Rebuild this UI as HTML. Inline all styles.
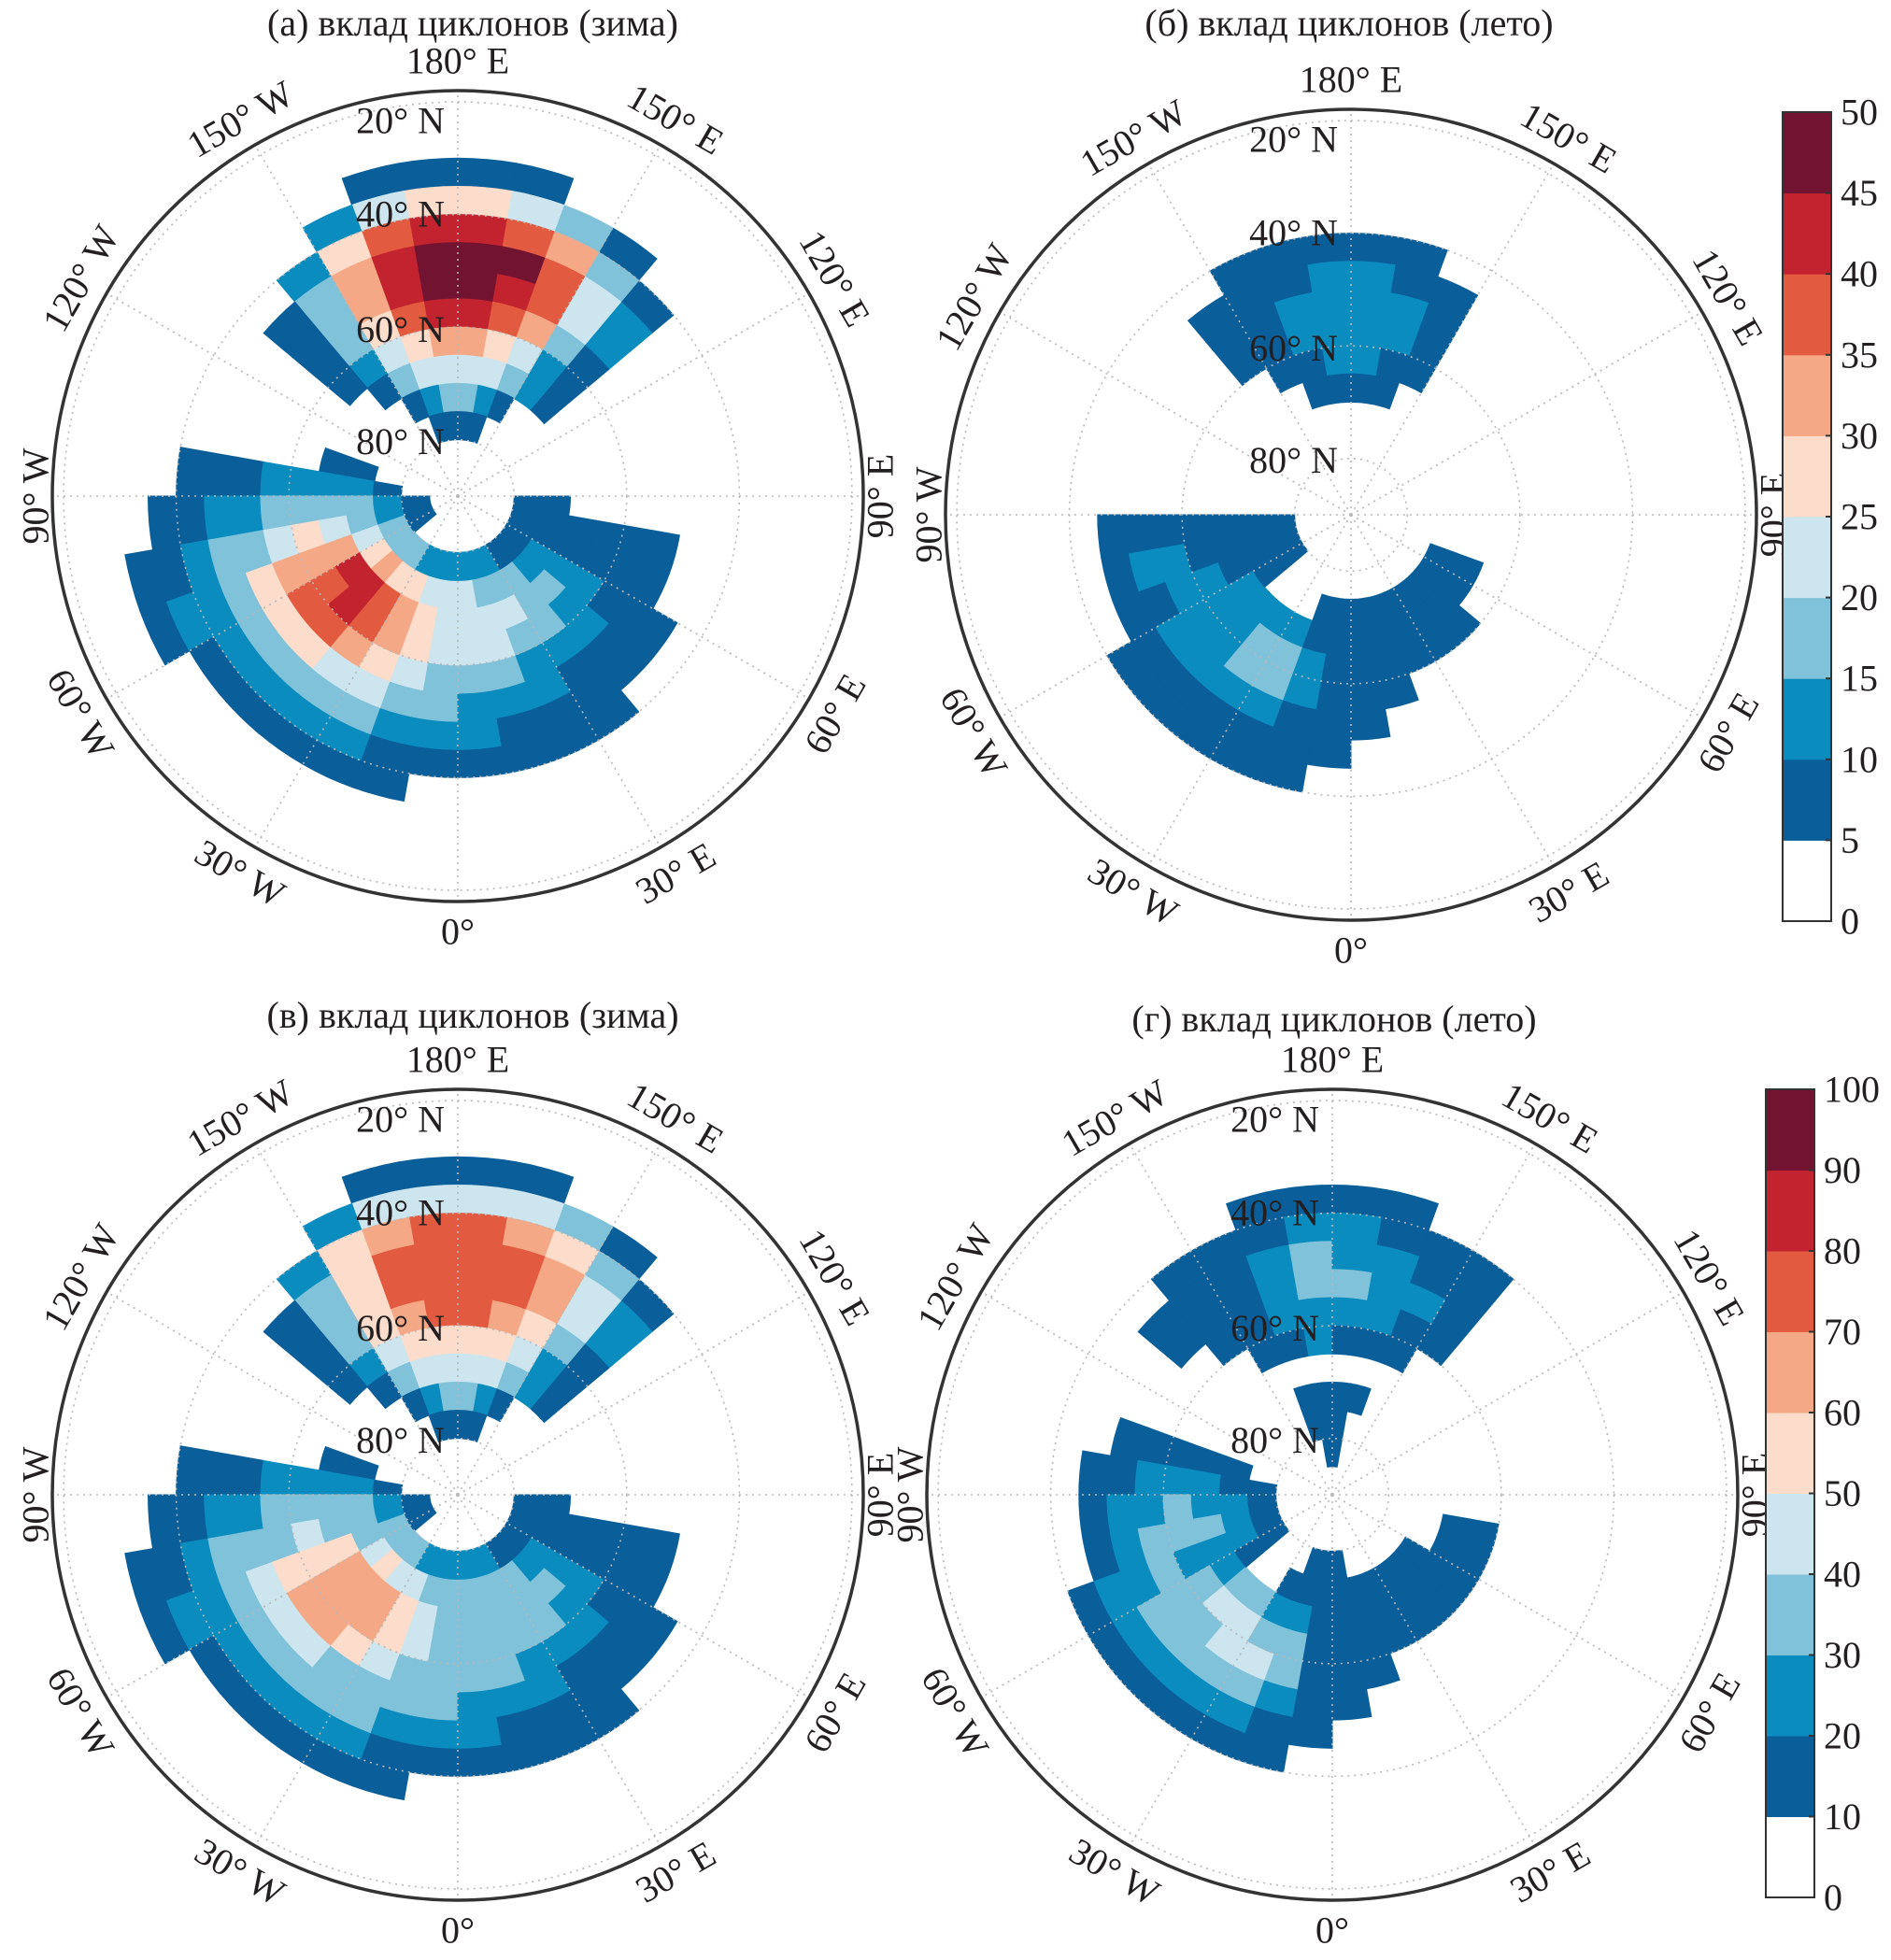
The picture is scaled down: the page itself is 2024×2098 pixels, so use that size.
<!DOCTYPE html>
<html><head><meta charset="utf-8">
<style>
html,body{margin:0;padding:0;background:#fff;}
svg{display:block;font-family:"Liberation Serif","DejaVu Serif",serif;}
</style></head>
<body>
<svg id="fig" width="2024" height="2098" viewBox="0 0 2024 2098" xmlns="http://www.w3.org/2000/svg"></svg>
<script>
// ---- data: class levels (0..9) on 5° lat bands (25..85N) x 10° lon sectors (180W..180E) ----
const latBands = [25,30,35,40,45,50,55,60,65,70,75,80];
const lonStarts = [-180,-170,-160,-150,-140,-130,-120,-110,-100,-90,-80,-70,-60,-50,-40,-30,-20,-10,0,10,20,30,40,50,60,70,80,90,100,110,120,130,140,150,160,170];
const fieldA = [
"000000000000000000000000000000000000",
"110000000011000000000000000000000011",
"542000000112111110000000000000001345",
"875200001122222211111100000000013678",
"986310001233333322211111000000024799",
"986310001235554433222111110000024789",
"875310002346776543332221110000013678",
"654210002356787654443322110000012456",
"443100012346887654444332110000012344",
"321000012334565544433322111000000123",
"110000001223333222222111111000000011",
"000000000111100000000000000000000000"];
const fieldB = [
"000000000000000000000000000000000000",
"000000000000000000000000000000000000",
"000000000000000000000000000000000000",
"111000000000111110000000000000000011",
"211100000111111111000000000000000112",
"221100000121222211100000000000000122",
"221100000122223321110000000000000122",
"211000000112223321111110000000000112",
"110000000111222211111111100000000011",
"000000000111100011111111100000000000",
"000000000111100000000000000000000000",
"000000000000000000000000000000000000"];
const fieldC = [
"000000000000000000000000000000000000",
"110000000011000000000000000000000011",
"442000000112111110000000000000001344",
"765200001122222211111100000000013567",
"775310001233333322211111000000024677",
"775310001234443333222111110000024677",
"765310002335665433332221110000013567",
"554210002345666543333322110000012455",
"443100012335666543333332110000012344",
"321000012333454433333322111000000123",
"110000001223333222222111111000000011",
"000000000111100000000000000000000000"];
const fieldD = [
"000000000000000000000000000000000000",
"000000000000000000000000000000000000",
"110000000000000000000000000000000011",
"211100000001111110000000000000001112",
"321110001112222211000000000000001122",
"321110011222333321100000000000001223",
"221100012233334431110000000000001122",
"211000012332344331111111110000000111",
"000000012232233221111111110000000000",
"110000011222100111111111000000000011",
"110000001111100011100000000000000001",
"100000000000000000000000000000000001"];
const cbTicksA = ["0","5","10","15","20","25","30","35","40","45","50"];
const cbTicksB = ["0","10","20","30","40","50","60","70","80","90","100"];
const gridLats = [20,40,60,80];
const latLabels = ["20° N","40° N","60° N","80° N"];
const lonLabels = ["180° E","150° E","120° E","90° E","60° E","30° E","0°","30° W","60° W","90° W","120° W","150° W"];
const lonLabelPos = [180,150,120,90,60,30,0,-30,-60,-90,-120,-150];
const lonLabelRot = [0,30,60,-90,-60,-30,0,30,60,-90,-60,-30];

// ---- styling ----
const COLORS = ["#ffffff","#0a5e99","#0b8cbf","#80c2d9","#cde5ee","#fcdccb","#f5a885","#e25a40","#c3232f","#721431"];
const R = 434;
const NS = "http://www.w3.org/2000/svg";
const svg = document.getElementById('fig');

function mk(tag, attrs, parent){
  const e = document.createElementNS(NS, tag);
  for (const k in attrs) e.setAttribute(k, attrs[k]);
  (parent||svg).appendChild(e);
  return e;
}
function rho(lat){ return R*(90-lat)/72; }
function pt(cx,cy,lat,lon){
  const a = lon*Math.PI/180, r = rho(lat);
  return [cx + r*Math.sin(a), cy + r*Math.cos(a)];
}

function drawPanel(id, cx, cy, field, title, titleX, titleY){
  const g = mk('g', {});
  
  
  const t = mk('text', {x:titleX, y:titleY, 'text-anchor':'middle', 'font-size':40, fill:'#231f20'}, g);
  t.textContent = title;
  
  
  const cells = mk('g', {}, g);
  
  
  for (let r=0;r<latBands.length;r++){
    const row = field[r];
    for (let c=0;c<lonStarts.length;c++){
      const lv = +row[c];
      if (!lv) continue;
      const la0 = latBands[r], la1 = la0+5, lo0 = lonStarts[c], lo1 = lo0+10;
      const pts = [];
      for (let k=0;k<=4;k++) pts.push(pt(cx,cy,la0, lo0+(lo1-lo0)*k/4));
      for (let k=4;k>=0;k--) pts.push(pt(cx,cy,la1, lo0+(lo1-lo0)*k/4));
      const p = mk('polygon', {points: pts.map(q=>q[0].toFixed(1)+','+q[1].toFixed(1)).join(' '), fill: COLORS[lv], stroke: COLORS[lv], 'stroke-width':1}, cells);
      
      
    }
  }
  const grid = mk('g', {stroke:'#b8b8b8','stroke-width':1.6,'stroke-dasharray':'2 5',fill:'none'}, g);
  
  
  gridLats.forEach(la=>{ mk('circle',{cx:cx,cy:cy,r:rho(la)},grid); });
  for (let lo=0; lo<360; lo+=30){
    const q = pt(cx,cy,18,lo);
    mk('line',{x1:cx,y1:cy,x2:q[0],y2:q[1]},grid);
  }
  const oc = mk('circle', {cx:cx, cy:cy, r:R, fill:'none', stroke:'#333', 'stroke-width':3.5}, g);
  
  
  const latFrac = [0.926,0.696,0.411,0.135];
  latLabels.forEach((s,i)=>{
    const e = mk('text', {x:cx-14, y:cy - R*latFrac[i], 'text-anchor':'end', 'dominant-baseline':'central', 'font-size':40, fill:'#231f20'}, g);
    e.textContent = s;
    
    
  });
  lonLabels.forEach((s,i)=>{
    const a = lonLabelPos[i]*Math.PI/180;
    const rr = (Math.abs(lonLabelPos[i])===90) ? R+18 : R+32;
    const x = cx + rr*Math.sin(a), y = cy + rr*Math.cos(a);
    const e = mk('text', {x:x, y:y, 'text-anchor':'middle', 'dominant-baseline':'central', 'font-size':40, fill:'#231f20', transform:'rotate('+lonLabelRot[i]+' '+x.toFixed(1)+' '+y.toFixed(1)+')'}, g);
    e.textContent = s;
    
    
  });
}

function drawColorbar(id, x, y0, y1, w, ticks){
  const g = mk('g', {});
  
  
  const n = ticks.length-1, h = (y1-y0)/n;
  for (let i=0;i<n;i++){
    const r = mk('rect', {x:x, y:y1-(i+1)*h, width:w, height:h+0.5, fill:COLORS[i]}, g);
    
    
  }
  mk('rect', {x:x, y:y0, width:w, height:y1-y0, fill:'none', stroke:'#333', 'stroke-width':2}, g);
  ticks.forEach((s,i)=>{
    const yy = y1 - i*h;
    mk('line', {x1:x+w-6, y1:yy, x2:x+w, y2:yy, stroke:'#333','stroke-width':2}, g);
    const t = mk('text', {x:x+w+10, y:yy, 'dominant-baseline':'central', 'font-size':40, fill:'#231f20'}, g);
    t.textContent = s;
    
    
  });
}

drawPanel('a', 490, 531, fieldA, '(а)  вклад циклонов (зима)', 506, 38);
drawPanel('b', 1446, 551, fieldB, '(б) вклад циклонов (лето)', 1444, 38);
drawPanel('c', 490, 1600, fieldC, '(в) вклад циклонов (зима)', 506, 1100);
drawPanel('d', 1426, 1600, fieldD, '(г) вклад циклонов (лето)', 1428, 1104);
drawColorbar('top', 1908, 120, 986, 52, cbTicksA);
drawColorbar('bottom', 1890, 1166, 2031, 52, cbTicksB);
</script>
</body></html>
